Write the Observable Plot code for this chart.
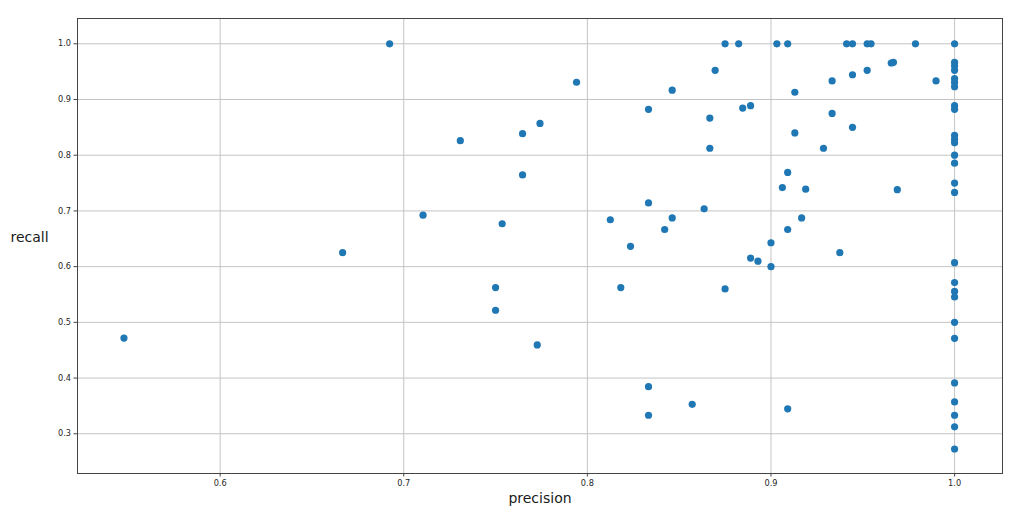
<!DOCTYPE html>
<html>
<head>
<meta charset="utf-8">
<script src="https://cdn.jsdelivr.net/npm/d3@7"></script>
<script src="https://cdn.jsdelivr.net/npm/@observablehq/plot@0.6"></script>
<style>
  html, body { margin: 0; padding: 0; background: #fff; }
  #chart svg { display: block; }
</style>
</head>
<body>
<div id="chart"></div>
<script>
// Points with precision < 1
const precision = [
  0.5476, 0.6667, 0.6923, 0.7105, 0.7308, 0.75, 0.75, 0.7536, 0.7647, 0.7647,
  0.7727, 0.7742, 0.7941, 0.8125, 0.8182, 0.8235, 0.8333, 0.8333, 0.8333, 0.8333,
  0.8421, 0.8462, 0.8462, 0.8571, 0.8636, 0.8667, 0.8667, 0.8696, 0.875, 0.875,
  0.8824, 0.8846, 0.8889, 0.8889, 0.8929, 0.9, 0.9, 0.9032, 0.9062, 0.9091,
  0.9091, 0.9091, 0.9091, 0.913, 0.913, 0.9167, 0.9189, 0.9286, 0.9333, 0.9333,
  0.9375, 0.9412, 0.9444, 0.9444, 0.9444, 0.9524, 0.9524, 0.9545, 0.9655, 0.9667,
  0.9688, 0.9787, 0.9899
];
const recall = [
  0.4717, 0.625, 1.0, 0.6923, 0.8261, 0.5625, 0.5217, 0.677, 0.8387, 0.7647,
  0.4595, 0.8571, 0.931, 0.6842, 0.5625, 0.6364, 0.7143, 0.8824, 0.3846, 0.3333,
  0.6667, 0.9167, 0.6875, 0.3529, 0.7037, 0.8667, 0.8125, 0.9524, 1.0, 0.56,
  1.0, 0.8846, 0.8889, 0.6154, 0.6098, 0.6429, 0.6, 1.0, 0.7419, 1.0,
  0.7692, 0.6667, 0.3448, 0.913, 0.84, 0.6875, 0.7391, 0.8125, 0.9333, 0.875,
  0.625, 1.0, 1.0, 0.9444, 0.85, 1.0, 0.9524, 1.0, 0.9655, 0.9667,
  0.7381, 1.0, 0.9333
];
// Points with precision == 1.0
const recallAtPerfectPrecision = [
  1.0, 0.9667, 0.96, 0.9524, 0.9375, 0.931, 0.9231, 0.8889, 0.8824,
  0.8356, 0.8286, 0.8222, 0.8, 0.7857, 0.75, 0.7333, 0.6071, 0.5714,
  0.5556, 0.5455, 0.5, 0.4714, 0.3913, 0.3571, 0.3333, 0.3125, 0.2727
];
const xTicks = [0.6, 0.7, 0.8, 0.9, 1.0];
const yTicks = [0.3, 0.4, 0.5, 0.6, 0.7, 0.8, 0.9, 1.0];
const xLabel = "precision";
const yLabel = "recall";

const points = precision.map((p, i) => ({precision: p, recall: recall[i]}))
  .concat(recallAtPerfectPrecision.map(r => ({precision: 1.0, recall: r})));

const chart = Plot.plot({
  width: 1024,
  height: 514,
  marginLeft: 77,
  marginRight: 22,
  marginTop: 18,
  marginBottom: 41,
  style: {fontFamily: "DejaVu Sans, sans-serif", background: "#fff", color: "#262626"},
  x: {domain: [0.5223, 1.0261]},
  y: {domain: [0.2287, 1.0454]},
  marks: [
    Plot.gridX(xTicks, {stroke: "#c4c4c4", strokeOpacity: 1, strokeWidth: 1}),
    Plot.gridY(yTicks, {stroke: "#c4c4c4", strokeOpacity: 1, strokeWidth: 1}),
    Plot.axisX(xTicks, {tickFormat: d3.format(".1f"), tickSize: 3.5, tickPadding: 3, fontSize: 8.2, label: null, stroke: "#444"}),
    Plot.axisY(yTicks, {tickFormat: d3.format(".1f"), tickSize: 3.5, tickPadding: 3, fontSize: 8.2, label: null, stroke: "#444"}),
    Plot.dot(points, {x: "precision", y: "recall", r: 3.6, fill: "#1f77b4", stroke: "none"}),
    Plot.frame({stroke: "#444", strokeWidth: 1}),
    Plot.text([xLabel], {frameAnchor: "bottom", dy: 25, fontSize: 14, fill: "#1a1a1a", lineAnchor: "middle"}),
    Plot.text([yLabel], {frameAnchor: "left", dx: -48, dy: -8, fontSize: 14, fill: "#1a1a1a", textAnchor: "middle"})
  ]
});
document.getElementById("chart").appendChild(chart);
</script>
</body>
</html>
